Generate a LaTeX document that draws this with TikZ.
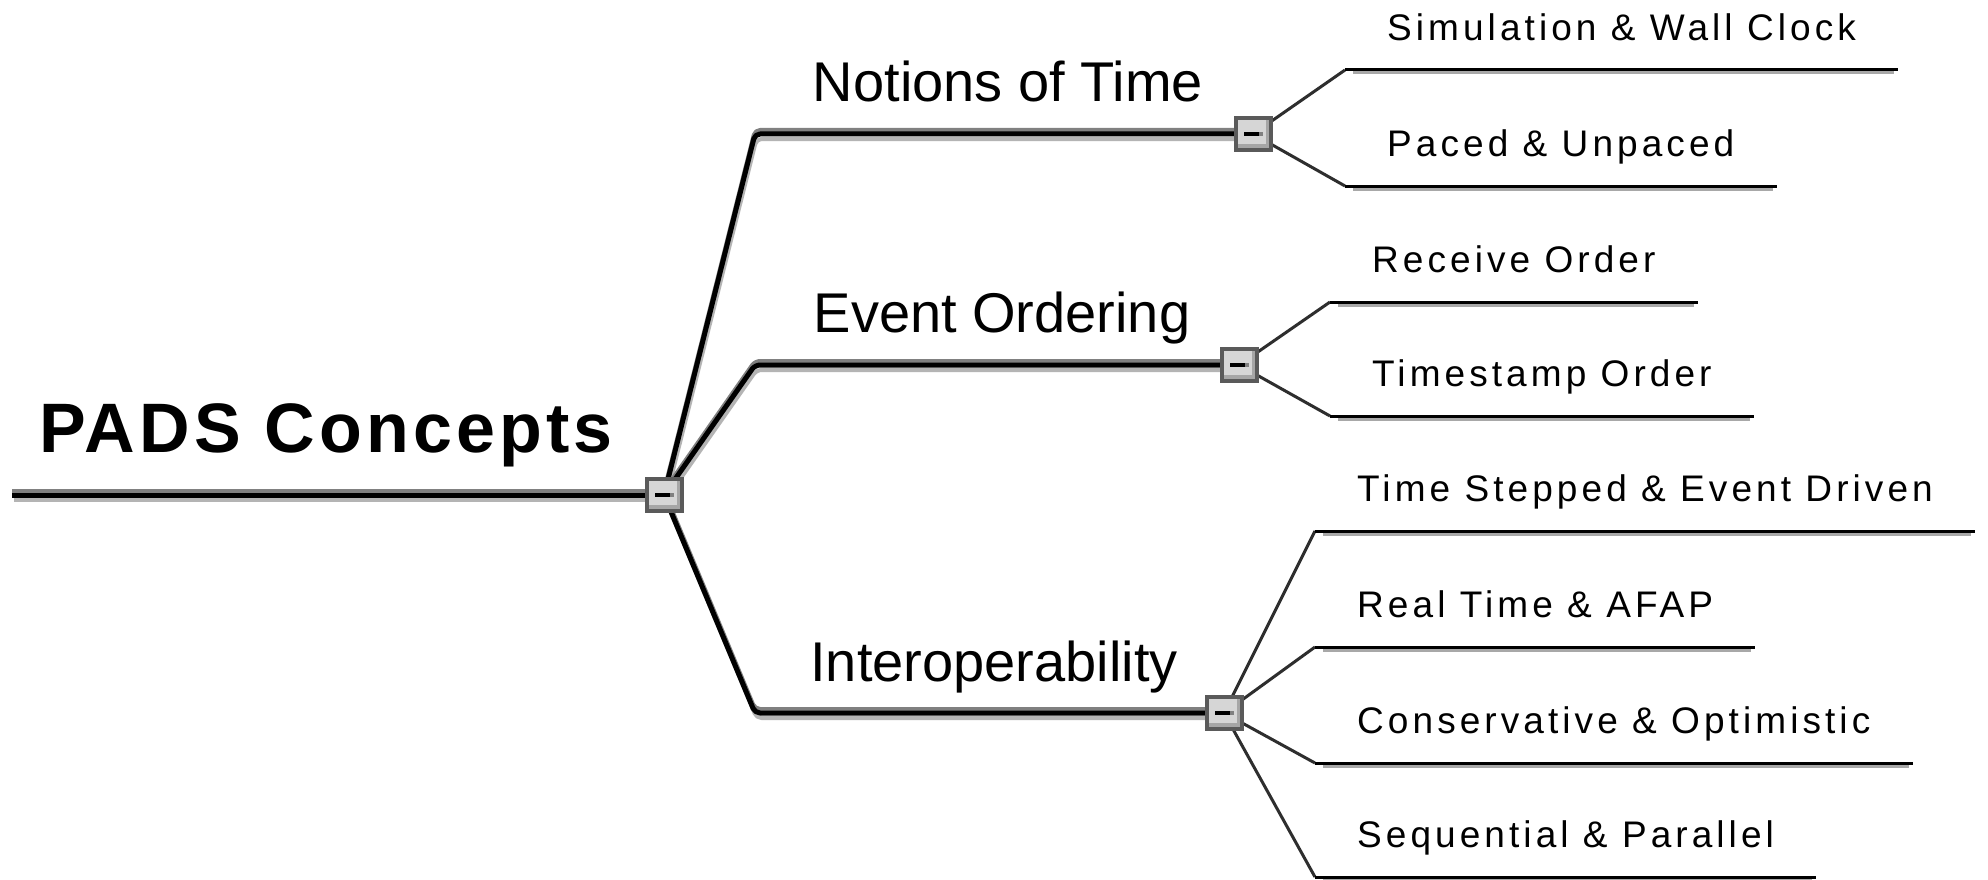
\documentclass[tikz,border=0pt]{standalone}
\usepackage{fontspec}
\setmainfont{Liberation Sans}
\newfontfamily\rootface[LetterSpace=6]{Liberation Sans}
\newfontfamily\subface[LetterSpace=11]{Liberation Sans}
\usetikzlibrary{calc}
\pgfdeclarelayer{paper}
\pgfdeclarelayer{wires}
\pgfsetlayers{paper,wires,main}

\definecolor{togedge}{HTML}{5A5A5A}
\definecolor{togfill}{HTML}{D6D6D6}
\definecolor{togshade}{HTML}{A6A6A6}
\definecolor{wirehi}{HTML}{808080}
\definecolor{wirelo}{HTML}{B4B4B4}
\definecolor{ruleshadow}{HTML}{A8A8A8}
\definecolor{subwire}{HTML}{2E2E2E}

\tikzset{
  toggle/.style={rectangle, minimum width=35pt, minimum height=32pt, inner sep=0pt,
    draw=togedge, line width=4pt, fill=togfill,
    path picture={
      \fill[togshade] (path picture bounding box.south west) rectangle
        ([yshift=6pt]path picture bounding box.south east);
      \fill[togshade] ([xshift=-5pt]path picture bounding box.south east) rectangle
        (path picture bounding box.north east);
      \fill[black] ([xshift=-9pt,yshift=-1.6pt]path picture bounding box.center) rectangle
        ([xshift=6pt,yshift=1.6pt]path picture bounding box.center);
      \fill[wirehi] ([xshift=6pt,yshift=-1.6pt]path picture bounding box.center) rectangle
        ([xshift=10pt,yshift=1.6pt]path picture bounding box.center);
    }},
  roottext/.style={font=\rootface\bfseries\fontsize{70pt}{84pt}\selectfont, inner sep=0pt, anchor=base},
  maintext/.style={font=\fontsize{56pt}{67pt}\selectfont, inner sep=0pt, anchor=base},
  subtopic/.style={font=\subface\fontsize{37pt}{44pt}\selectfont, anchor=south west,
    inner xsep=42pt, inner ysep=29pt, text depth=0pt},
}

% thick branch: light shadow below, grey rim above, black core
\newcommand\thickwire[1]{%
  \draw[wirelo, line width=4pt, line join=round, rounded corners=5pt,
        transform canvas={xshift=1.5pt,yshift=-5pt}] #1;
  \draw[wirehi, line width=4pt, line join=round, rounded corners=5pt,
        transform canvas={yshift=4pt}] #1;
  \draw[black, line width=5pt, line join=round, rounded corners=5pt] #1;}
% thin connector from a toggle to a subtopic
\newcommand\thinwire[1]{\draw[subwire, line width=3pt] #1;}
% underline of a subtopic with its shadow
\newcommand\topicrule[1]{%
  \draw[ruleshadow, line width=3pt] ([xshift=8pt,yshift=-3pt]#1.south west) --
        ([xshift=-4pt,yshift=-3pt]#1.south east);
  \draw[black, line width=3pt] (#1.south west) -- (#1.south east);}

\begin{document}
\begin{tikzpicture}[x=1pt,y=-1pt]
  \begin{pgfonlayer}{paper}
    \fill[white] (0,0) rectangle (1988,880);
  \end{pgfonlayer}
  \useasboundingbox (0,0) rectangle (1988,880);

  % central topic
  \coordinate (r0) at (12,495);
  \node[roottext] (root) at (326,452) {PADS Concepts};
  \node[toggle] (t0) at (664,495) {};

  % main topics
  \coordinate (c1) at (755,134);
  \coordinate (c2) at (755,365);
  \coordinate (c3) at (755,713);
  \node[maintext] (m1) at (1008,102) {Notions of Time};
  \node[maintext] (m2) at (1002,332) {Event Ordering};
  \node[maintext] (m3) at (994,681) {Interoperability};
  \node[toggle] (t1) at (1253,134) {};
  \node[toggle] (t2) at (1239,365) {};
  \node[toggle] (t3) at (1224,713) {};

  % subtopics
  \node[subtopic] (s11) at (1345,70) {Simulation \& Wall Clock};
  \node[subtopic] (s12) at (1345,186) {Paced \& Unpaced};
  \node[subtopic] (s21) at (1330,302) {Receive Order};
  \node[subtopic] (s22) at (1330,416) {Timestamp Order};
  \node[subtopic] (s31) at (1315,531) {Time Stepped \& Event Driven};
  \node[subtopic] (s32) at (1315,647) {Real Time \& AFAP};
  \node[subtopic] (s33) at (1315,763) {Conservative \& Optimistic};
  \node[subtopic] (s34) at (1315,877) {Sequential \& Parallel};

  \foreach \s in {s11,s12,s21,s22,s31,s32,s33,s34}{\topicrule{\s}}

  \begin{pgfonlayer}{wires}
    \thickwire{(r0) -- (t0.center)}
    \thickwire{(t0.center) -- (c1) -- (t1.center)}
    \thickwire{(t0.center) -- (c2) -- (t2.center)}
    \thickwire{(t0.center) -- (c3) -- (t3.center)}
    \thinwire{(t1.center) -- (s11.south west)}
    \thinwire{(t1.center) -- (s12.south west)}
    \thinwire{(t2.center) -- (s21.south west)}
    \thinwire{(t2.center) -- (s22.south west)}
    \thinwire{(t3.center) -- (s31.south west)}
    \thinwire{(t3.center) -- (s32.south west)}
    \thinwire{(t3.center) -- (s33.south west)}
    \thinwire{(t3.center) -- (s34.south west)}
  \end{pgfonlayer}
\end{tikzpicture}
\end{document}
